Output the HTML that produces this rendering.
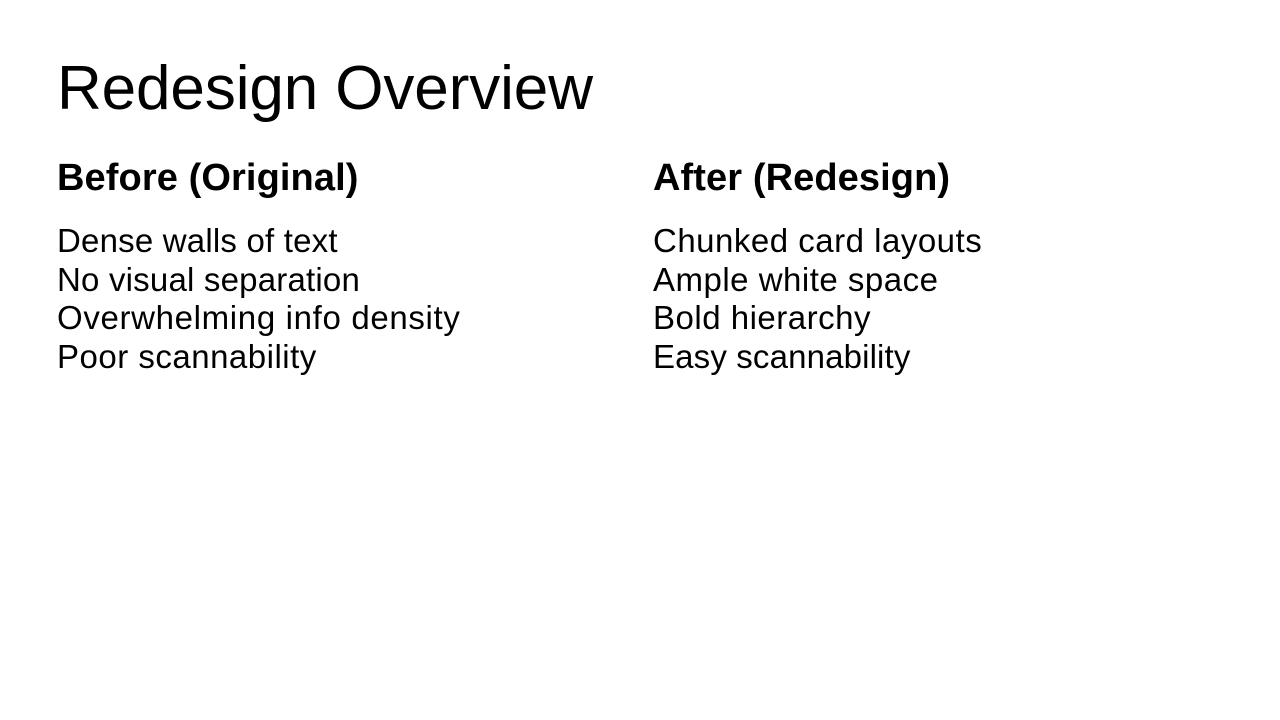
<!DOCTYPE html>
<html><head><meta charset="utf-8"><style>
html,body{margin:0;padding:0;background:#fff;width:1280px;height:720px;overflow:hidden;font-family:"Liberation Sans",sans-serif;color:#000}
.t{position:absolute;left:57px;top:52px;font-size:62px;letter-spacing:-0.1px;line-height:74px;white-space:nowrap}
.h{position:absolute;top:155px;font-size:38px;font-weight:bold;letter-spacing:0.1px;line-height:46px;white-space:nowrap}
.l{position:absolute;top:222px;font-size:33px;line-height:38.5px;letter-spacing:0.5px;white-space:nowrap}
.l span{display:block}
</style></head><body>
<div class="t">Redesign Overview</div>
<div class="h" style="left:57px">Before (Original)</div>
<div class="h" style="left:653px">After (Redesign)</div>
<div class="l" style="left:57px"><span style="letter-spacing:0.2px">Dense walls of text</span><span style="letter-spacing:0.2px">No visual separation</span><span style="letter-spacing:0.66px">Overwhelming info density</span><span>Poor scannability</span></div>
<div class="l" style="left:653px"><span>Chunked card layouts</span><span>Ample white space</span><span>Bold hierarchy</span><span style="letter-spacing:0.15px">Easy scannability</span></div>
</body></html>
